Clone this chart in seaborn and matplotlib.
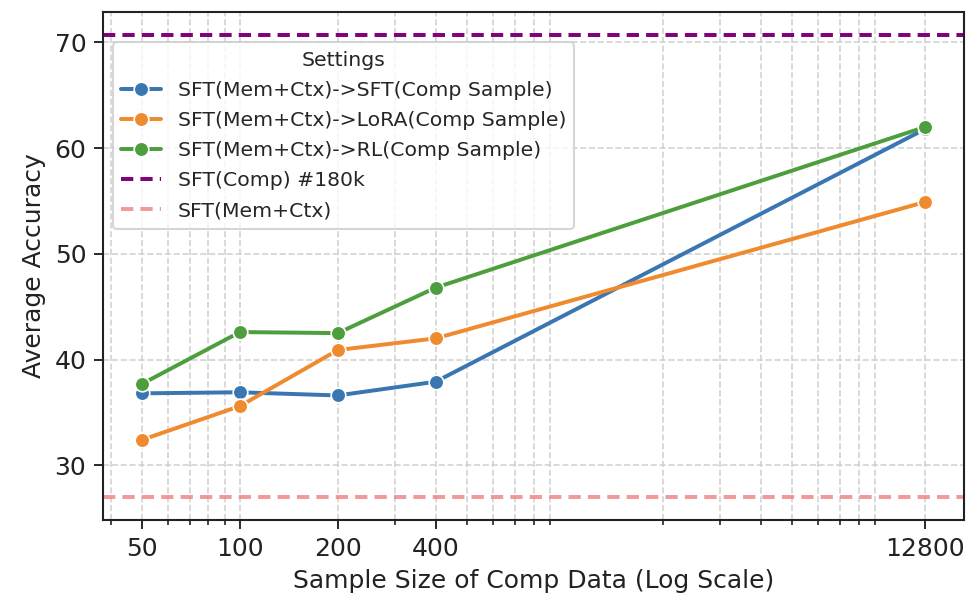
import matplotlib
matplotlib.use("Agg")
import matplotlib.pyplot as plt
import matplotlib.ticker as mticker
import seaborn as sns
import pandas as pd

sample_sizes = [50, 100, 200, 400, 12800]
settings = [
    "SFT(Mem+Ctx)->SFT(Comp Sample)",
    "SFT(Mem+Ctx)->LoRA(Comp Sample)",
    "SFT(Mem+Ctx)->RL(Comp Sample)",
]
sft_comp = [36.8, 36.9, 36.6, 37.9, 61.8]
lora_comp = [32.4, 35.6, 40.9, 42.0, 54.9]
rl_comp = [37.7, 42.6, 42.5, 46.8, 62.0]
baseline_comp_180k = 70.7
baseline_mem_ctx = 27.0
tick_labels = ["50", "100", "200", "400", "12800"]

colors = ["#3a76b2", "#f08a2e", "#4d9f3e"]

rows = []
for name, vals in zip(settings, [sft_comp, lora_comp, rl_comp]):
    for x, y in zip(sample_sizes, vals):
        rows.append({"Sample": x, "Accuracy": y, "Settings": name})
df = pd.DataFrame(rows)

sns.set_style("ticks")
plt.rcParams["font.family"] = ["DejaVu Sans"]

fig = plt.figure(figsize=(969 / 150, 597 / 150), dpi=150)
ax = fig.add_axes([103 / 969, 1 - 520 / 597, 861 / 969, 508 / 597])

sns.lineplot(
    data=df, x="Sample", y="Accuracy", hue="Settings", hue_order=settings,
    palette=dict(zip(settings, colors)), marker="o", markersize=7,
    markeredgecolor="white", markeredgewidth=0.8, linewidth=1.9, ax=ax,
)
ax.axhline(baseline_comp_180k, color="purple", linestyle=(0, (3.1, 1.8)), linewidth=1.9,
           label="SFT(Comp) #180k")
ax.axhline(baseline_mem_ctx, color="lightcoral", linestyle=(0, (3.1, 1.8)), linewidth=1.9,
           alpha=0.8, label="SFT(Mem+Ctx)")

ax.set_xscale("log")
ax.set_xticks(sample_sizes)
ax.set_xticklabels(tick_labels)
ax.xaxis.set_minor_formatter(mticker.NullFormatter())
ax.grid(True, which="both", linestyle="--", color="#cfcfcf", linewidth=0.8, alpha=0.9)
ax.set_axisbelow(True)

ax.tick_params(axis="both", which="major", labelsize=12, length=4.5, width=0.9,
               color="#222222", labelcolor="#222222")
ax.tick_params(axis="x", which="minor", length=2.5, width=0.8, color="#222222")
for s in ax.spines.values():
    s.set_color("#222222")
    s.set_linewidth(1.0)

ax.set_xlabel("Sample Size of Comp Data (Log Scale)", fontsize=12, color="#222222")
ax.set_ylabel("Average Accuracy", fontsize=12, color="#222222")

handles, labels = ax.get_legend_handles_labels()
leg = ax.legend(handles, labels, title="Settings", loc="upper left",
                bbox_to_anchor=(0.0113, 0.940), borderaxespad=0, fontsize=9.75,
                title_fontsize=9.75, labelspacing=0.55, frameon=True, framealpha=0.8)
leg.get_frame().set_edgecolor("#cccccc")

fig.savefig("out.png", dpi=150)
